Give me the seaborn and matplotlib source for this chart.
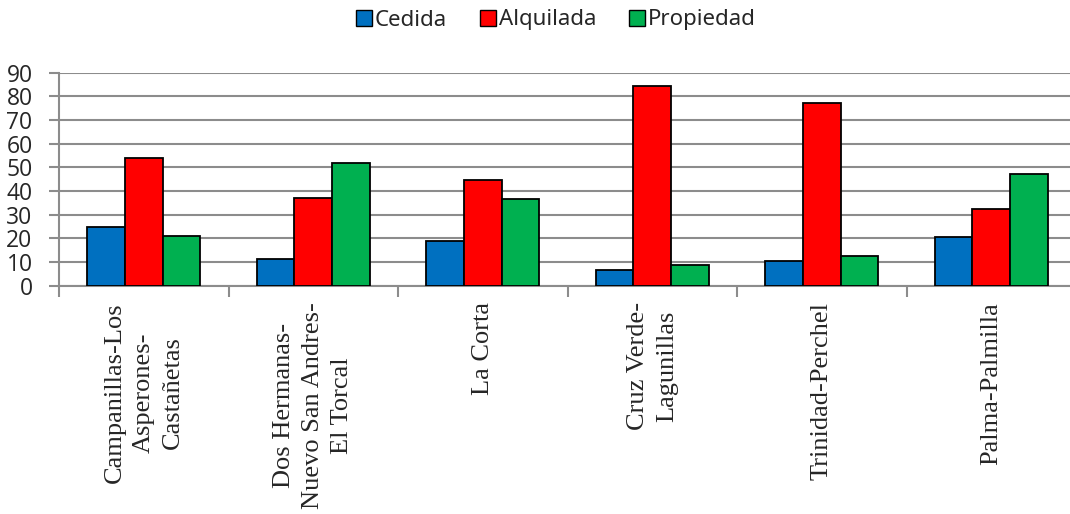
import matplotlib
matplotlib.use("Agg")
import matplotlib.pyplot as plt
import seaborn as sns
import pandas as pd
import numpy as np

categories = ["Campanillas-Los\nAsperones-\nCastañetas",
              "Dos Hermanas-\nNuevo San Andres-\nEl Torcal",
              "La Corta",
              "Cruz Verde-\nLagunillas",
              "Trinidad-Perchel",
              "Palma-Palmilla"]
series = ["Cedida", "Alquilada", "Propiedad"]
cedida = [25, 11.1, 18.7, 6.6, 10.3, 20.4]
alquilada = [53.8, 36.9, 44.5, 84.4, 77.0, 32.5]
propiedad = [21.0, 51.8, 36.6, 8.7, 12.7, 47.0]
colors = ["#0070C0", "#FF0000", "#00B050"]

df = pd.DataFrame({
    "cat": categories * 3,
    "serie": [s for s in series for _ in categories],
    "val": cedida + alquilada + propiedad,
})

sns.set_theme(style="white")
plt.rcParams['font.family'] = ['Noto Sans', 'DejaVu Sans']

fig = plt.figure(figsize=(10.7, 5.14), dpi=100)
ax = fig.add_axes([59/1070, 1-285.7/514, (1076-59)/1070, (285.7-72.7)/514])

sns.barplot(data=df, x="cat", y="val", hue="serie", order=categories,
            hue_order=series, palette=colors, saturation=1, width=0.665,
            edgecolor="black", linewidth=1.3, ax=ax, legend=False, zorder=3)

ax.set_xlim(-0.5, 5.5)
ax.set_ylim(0, 90)
ax.set_yticks(np.arange(0, 91, 10))
ax.yaxis.grid(True, color="#8c8c8c", linewidth=1.5, zorder=0)
ax.set_axisbelow(True)
ax.xaxis.grid(False)
for s in ["top", "right"]:
    ax.spines[s].set_visible(False)
for s in ["left", "bottom"]:
    ax.spines[s].set_color("#8c8c8c")
    ax.spines[s].set_linewidth(1.5)
ax.set_xlabel("")
ax.set_ylabel("")

ax.tick_params(axis="y", which="major", left=True, length=7, width=1.5,
               color="#8c8c8c", labelsize=16.5, pad=12)
for lab in ax.get_yticklabels():
    lab.set_fontfamily(['Open Sans', 'DejaVu Sans'])

ax.set_xticks(np.arange(-0.5, 6.0, 1.0), minor=True)
ax.tick_params(axis="x", which="minor", bottom=True, length=8, width=1.5,
               color="#8c8c8c")
ax.tick_params(axis="x", which="major", bottom=False, length=0, pad=12)
ax.set_xticks(range(len(categories)))
ax.set_xticklabels(categories, rotation=90, ha="center", va="top",
                   multialignment="center", fontsize=19,
                   family=['Liberation Serif', 'DejaVu Serif'],
                   linespacing=1.42)

from matplotlib.patches import Patch
handles = [Patch(facecolor=c, edgecolor="black", linewidth=1.0) for c in colors]
fig.legend(handles, series, loc="center", bbox_to_anchor=(556/1070, 1-20/514),
           ncol=3, frameon=False, fontsize=16, handlelength=0.72,
           handleheight=0.72, handletextpad=0.12, columnspacing=1.5)

fig.savefig("out.png", dpi=100)
